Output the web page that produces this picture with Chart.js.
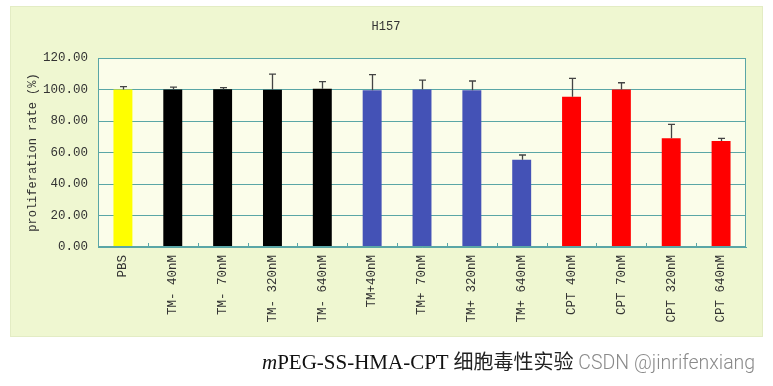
<!DOCTYPE html>
<html>
<head>
<meta charset="utf-8">
<script src="https://cdn.jsdelivr.net/npm/chart.js@4/dist/chart.umd.min.js"></script>
<style>
  html, body { margin: 0; padding: 0; background: #ffffff; }
  #wrap { position: relative; width: 773px; height: 386px; overflow: hidden; }
  #c { position: absolute; left: 0; top: 0; }
  #caption { position: absolute; left: 262px; top: 348px; white-space: nowrap; line-height: 26px; }
  #caption .cap { font-family: "Liberation Serif", "Noto Sans CJK SC", serif; font-size: 21px; color: #111; }
  #caption .cjk { font-family: "Noto Sans CJK SC", sans-serif; font-size: 20px; color: #222; }
  #caption .wm { font-family: Roboto, "Liberation Sans", sans-serif; font-weight: 300; font-size: 19.5px; color: #8a8a8a; }
</style>
</head>
<body>
<div id="wrap">
  <canvas id="c" width="773" height="386"></canvas>
  <div id="caption"><span class="cap"><i>m</i>PEG-SS-HMA-CPT </span><span class="cjk">细胞毒性实验</span><span class="wm"> CSDN @jinrifenxiang</span></div>
</div>
<script>
// ---- data ----
const categories = ["PBS", "TM- 40nM", "TM- 70nM", "TM- 320nM", "TM- 640nM",
  "TM+40nM", "TM+ 70nM", "TM+ 320nM", "TM+ 640nM",
  "CPT 40nM", "CPT 70nM", "CPT 320nM", "CPT 640nM"];
const proliferation = [100.0, 100.0, 100.2, 99.8, 100.5, 99.6, 100.0, 99.5, 55.4, 95.4, 100.0, 69.0, 67.3];
const errorUp = [1.8, 1.5, 1.0, 9.9, 4.5, 9.9, 6.0, 5.9, 3.0, 11.7, 4.3, 8.9, 1.7];
const groups = ["pbs", "tm-", "tm-", "tm-", "tm-", "tm+", "tm+", "tm+", "tm+", "cpt", "cpt", "cpt", "cpt"];
const yTicks = [0, 20, 40, 60, 80, 100, 120];
const chartTitle = "H157";
const yTitle = "proliferation rate (%)";

const groupColors = { "pbs": "#ffff00", "tm-": "#000000", "tm+": "#4452b6", "cpt": "#ff0000" };
const barColors = groups.map(g => groupColors[g]);
const teal = "#5aa6a6";
const mono = "'Liberation Mono', 'DejaVu Sans Mono', monospace";

const panelPlugin = {
  id: "panel",
  beforeDraw(chart) {
    const ctx = chart.ctx, a = chart.chartArea;
    ctx.save();
    ctx.fillStyle = "#eff7d1";
    ctx.fillRect(10, 6, 753, 331);
    ctx.strokeStyle = "#e3ecc4";
    ctx.lineWidth = 1;
    ctx.strokeRect(10.5, 6.5, 752, 330);
    ctx.fillStyle = "#fbfdea";
    ctx.fillRect(a.left, a.top, a.right - a.left, a.bottom - a.top);
    ctx.restore();
  },
  afterDraw(chart) {
    const ctx = chart.ctx, a = chart.chartArea, xs = chart.scales.x;
    ctx.save();
    ctx.strokeStyle = teal;
    ctx.lineWidth = 1;
    ctx.strokeRect(a.left + 0.5, a.top + 0.5, a.right - a.left - 1, a.bottom - a.top - 1);
    // small inside tick marks between categories
    ctx.beginPath();
    for (let i = 1; i < categories.length; i++) {
      const x = Math.round((xs.getPixelForValue(i - 1) + xs.getPixelForValue(i)) / 2) + 0.5;
      ctx.moveTo(x, a.bottom);
      ctx.lineTo(x, a.bottom - 4);
    }
    ctx.stroke();
    ctx.restore();
  }
};

const errorBarPlugin = {
  id: "errorBars",
  afterDatasetsDraw(chart) {
    const ctx = chart.ctx, ys = chart.scales.y;
    const meta = chart.getDatasetMeta(0);
    ctx.save();
    ctx.strokeStyle = "#444444";
    ctx.lineWidth = 1.3;
    meta.data.forEach((bar, i) => {
      const x = Math.round(bar.x) + 0.5;
      const yTop = ys.getPixelForValue(proliferation[i]);
      const yErr = ys.getPixelForValue(proliferation[i] + errorUp[i]);
      ctx.beginPath();
      ctx.moveTo(x, yTop);
      ctx.lineTo(x, yErr);
      ctx.moveTo(x - 3.5, yErr);
      ctx.lineTo(x + 3.5, yErr);
      ctx.stroke();
    });
    ctx.restore();
  }
};

new Chart(document.getElementById("c"), {
  type: "bar",
  data: {
    labels: categories,
    datasets: [{
      data: proliferation,
      backgroundColor: barColors,
      borderWidth: 0,
      categoryPercentage: 1.0,
      barPercentage: 0.38
    }]
  },
  options: {
    responsive: false,
    animation: false,
    layout: { padding: { left: 26, right: 27, top: 5.6, bottom: 0 } },
    plugins: {
      legend: { display: false },
      tooltip: { enabled: false },
      title: {
        display: true,
        text: chartTitle,
        color: "#333333",
        font: { family: mono, size: 12, weight: "normal" },
        padding: { top: 14, bottom: 24 }
      }
    },
    scales: {
      x: {
        grid: { display: false, drawTicks: false },
        border: { display: true, color: teal, width: 1 },
        ticks: {
          color: "#333333",
          font: { family: mono, size: 12.5 },
          minRotation: 90,
          maxRotation: 90,
          autoSkip: false,
          padding: 8
        },
        afterFit(scale) { scale.height = 139; }
      },
      y: {
        min: 0,
        max: 120,
        afterBuildTicks(scale) { scale.ticks = yTicks.map(v => ({ value: v })); },
        grid: { color: teal, lineWidth: 1, drawTicks: false },
        border: { display: true, color: teal, width: 1 },
        ticks: {
          color: "#333333",
          font: { family: mono, size: 12.5 },
          padding: 10,
          callback: v => Number(v).toFixed(2)
        },
        title: {
          display: true,
          text: yTitle,
          color: "#333333",
          font: { family: mono, size: 12 },
          padding: { top: 0, bottom: 0 }
        },
        afterFit(scale) { scale.width = 72; }
      }
    }
  },
  plugins: [panelPlugin, errorBarPlugin]
});
</script>
</body>
</html>
